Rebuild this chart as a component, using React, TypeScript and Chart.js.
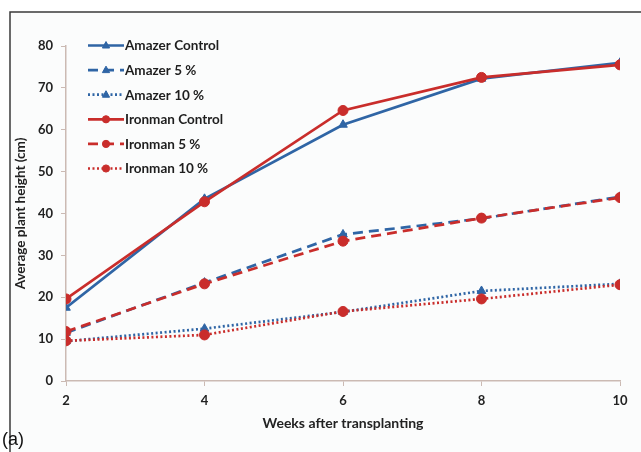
import React, { useEffect, useRef } from "react";
import { Chart, registerables } from "chart.js";

Chart.register(...registerables);

const weeks = [2, 4, 6, 8, 10];
const amazerControl = [17.5, 43.5, 61.2, 72.2, 76.0];
const amazer5 = [11.5, 23.5, 35.0, 38.8, 44.0];
const amazer10 = [9.5, 12.5, 16.5, 21.5, 23.2];
const ironmanControl = [19.6, 42.8, 64.6, 72.5, 75.5];
const ironman5 = [11.8, 23.2, 33.4, 38.9, 43.8];
const ironman10 = [9.6, 11.0, 16.6, 19.6, 23.0];

const seriesLabels = [
  "Amazer Control",
  "Amazer 5 %",
  "Amazer 10 %",
  "Ironman Control",
  "Ironman 5 %",
  "Ironman 10 %",
];
const yTicks = [0, 10, 20, 30, 40, 50, 60, 70, 80];

const BLUE = "#2f65a5";
const RED = "#c92d2b";
const FONT = "Lato, 'Open Sans', sans-serif";

const toXY = (vals: number[]) => vals.map((v, i) => ({ x: weeks[i], y: v }));

function drawMarker(ctx: CanvasRenderingContext2D, style: string, x: number, y: number, r: number, color: string) {
  ctx.save();
  ctx.setLineDash([]);
  ctx.fillStyle = color;
  ctx.strokeStyle = color;
  ctx.lineWidth = 1;
  ctx.beginPath();
  if (style === "triangle") {
    ctx.moveTo(x, y - r * 1.1);
    ctx.lineTo(x + r, y + r * 0.7);
    ctx.lineTo(x - r, y + r * 0.7);
    ctx.closePath();
  } else {
    ctx.arc(x, y, r, 0, Math.PI * 2);
  }
  ctx.fill();
  ctx.stroke();
  ctx.restore();
}

const framePlugin = {
  id: "framePlugin",
  beforeDraw(chart: any) {
    const ctx = chart.ctx as CanvasRenderingContext2D;
    ctx.save();
    ctx.fillStyle = "#ffffff";
    ctx.fillRect(0, 0, chart.width, chart.height);
    ctx.fillStyle = "#fbfcfc";
    ctx.fillRect(11, 13, chart.width - 11, chart.height - 13);
    ctx.strokeStyle = "#3a3a3a";
    ctx.lineWidth = 1.5;
    ctx.beginPath();
    ctx.moveTo(10, chart.height);
    ctx.lineTo(10, 12);
    ctx.lineTo(chart.width, 12);
    ctx.stroke();
    ctx.restore();
  },
  afterDraw(chart: any) {
    const ctx = chart.ctx as CanvasRenderingContext2D;
    ctx.save();
    ctx.fillStyle = "#111";
    ctx.font = "18px 'Liberation Sans', Arial, sans-serif";
    ctx.textAlign = "left";
    ctx.textBaseline = "middle";
    ctx.fillText("(a)", 2, 440);
    ctx.restore();
  },
};

const legendPlugin = {
  id: "customLegend",
  afterDatasetsDraw(chart: any) {
    const ctx = chart.ctx as CanvasRenderingContext2D;
    const datasets = chart.data.datasets;
    const x0 = 88;
    const x1 = 124;
    const y0 = 45.5;
    const step = 24.6;
    ctx.save();
    datasets.forEach((ds: any, i: number) => {
      const y = y0 + i * step;
      ctx.strokeStyle = ds.borderColor;
      ctx.lineWidth = ds.borderWidth;
      ctx.setLineDash(ds.borderDash || []);
      ctx.lineCap = "butt";
      ctx.beginPath();
      ctx.moveTo(x0, y);
      ctx.lineTo(x1, y);
      ctx.stroke();
      drawMarker(ctx, ds.pointStyle, (x0 + x1) / 2, y, 3.6, ds.pointBackgroundColor);
      ctx.setLineDash([]);
      ctx.fillStyle = "#1e1e1e";
      ctx.font = `bold 13.5px ${FONT}`;
      ctx.textAlign = "left";
      ctx.textBaseline = "middle";
      ctx.fillText(ds.label, x1 + 1, y + 0.5);
    });
    ctx.restore();
  },
};

export default function App() {
  const canvasRef = useRef<HTMLCanvasElement | null>(null);

  useEffect(() => {
    const canvas = canvasRef.current;
    if (!canvas) return;
    const mk = (label: string, data: number[], color: string, dash: number[], style: string, order: number) => ({
      label,
      data: toXY(data),
      borderColor: color,
      backgroundColor: color,
      borderWidth: 2.7,
      borderDash: dash,
      pointStyle: style,
      pointRadius: style === "triangle" ? 5 : 5,
      pointBackgroundColor: color,
      pointBorderColor: color,
      pointBorderWidth: 1,
      tension: 0,
      order,
    });
    const chart = new Chart(canvas, {
      type: "line",
      data: {
        datasets: [
          mk(seriesLabels[0], amazerControl, BLUE, [], "triangle", 1),
          mk(seriesLabels[1], amazer5, BLUE, [10, 6], "triangle", 1),
          mk(seriesLabels[2], amazer10, BLUE, [2, 2.5], "triangle", 1),
          mk(seriesLabels[3], ironmanControl, RED, [], "circle", 0),
          mk(seriesLabels[4], ironman5, RED, [10, 6], "circle", 0),
          mk(seriesLabels[5], ironman10, RED, [2, 2.5], "circle", 0),
        ] as any,
      },
      options: {
        responsive: false,
        animation: false,
        devicePixelRatio: 1,
        layout: { padding: { left: 0, right: 21, top: 46, bottom: 0 } },
        plugins: {
          legend: { display: false },
          tooltip: { enabled: false },
          title: { display: false },
        },
        scales: {
          x: {
            type: "linear",
            min: 2,
            max: 10,
            afterFit: (s: any) => {
              s.height = 71;
            },
            afterBuildTicks: (s: any) => {
              s.ticks = weeks.map((v) => ({ value: v }));
            },
            border: { display: true, color: "#cbbab3", width: 1.5 },
            grid: { drawOnChartArea: false, drawTicks: true, tickLength: 5, color: "#cbbab3" },
            ticks: {
              color: "#222",
              font: { family: FONT, size: 13, weight: "bold" },
              padding: 7,
              maxRotation: 0,
            },
            title: {
              display: true,
              text: "Weeks after transplanting",
              color: "#222",
              font: { family: FONT, size: 14, weight: "bold" },
              padding: { top: 0, bottom: 20 },
            },
          },
          y: {
            type: "linear",
            min: 0,
            max: 80,
            afterFit: (s: any) => {
              s.width = 66;
            },
            afterBuildTicks: (s: any) => {
              s.ticks = yTicks.map((v) => ({ value: v }));
            },
            border: { display: true, color: "#cbbab3", width: 1.5 },
            grid: { drawOnChartArea: false, drawTicks: true, tickLength: 5, color: "#cbbab3" },
            ticks: {
              color: "#222",
              font: { family: FONT, size: 13, weight: "bold" },
              padding: 8,
            },
            title: {
              display: true,
              text: "Average plant height (cm)",
              color: "#222",
              font: { family: FONT, size: 13.5, weight: "bold" },
              padding: { top: 13, bottom: 0 },
            },
          },
        },
      } as any,
      plugins: [framePlugin, legendPlugin],
    });
    return () => chart.destroy();
  }, []);

  return (
    <div style={{ position: "absolute", left: 0, top: 0, width: 641, height: 452 }}>
      <canvas ref={canvasRef} width={641} height={452} style={{ display: "block" }} />
    </div>
  );
}
